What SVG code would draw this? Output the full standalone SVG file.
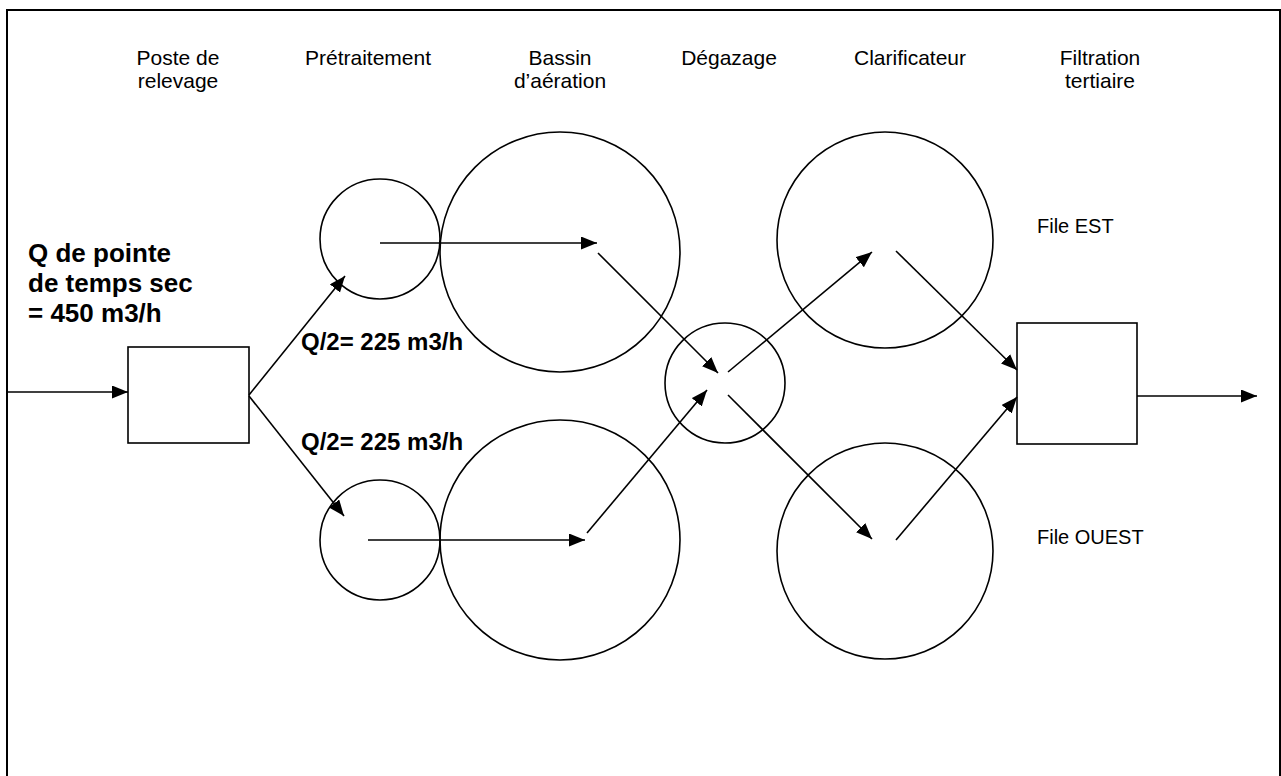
<svg xmlns="http://www.w3.org/2000/svg" width="1281" height="776" viewBox="0 0 1281 776">
<defs>
<style>
.shape{fill:none;stroke:#000;stroke-width:1.6}
.frame{fill:none;stroke:#000;stroke-width:2}
.conn line{stroke:#000;stroke-width:1.6;marker-end:url(#ah)}
.lbl{font-family:"Liberation Sans",Arial,sans-serif;font-size:21px;fill:#000;text-anchor:middle}
.side{font-family:"Liberation Sans",Arial,sans-serif;font-size:20px;fill:#000}
.bold{font-family:"Liberation Sans",Arial,sans-serif;font-weight:bold;fill:#000}
</style>
<marker id="ah" markerUnits="userSpaceOnUse" markerWidth="17" markerHeight="14" refX="16" refY="6.5" orient="auto">
<path d="M0,0 L16,6.5 L0,13 z" fill="#000"/>
</marker>
</defs>
<rect width="1281" height="776" fill="#fff"/>
<rect class="frame" x="7" y="10" width="1273" height="780"/>

<g id="labels">
<text class="lbl" x="178" y="65">Poste de</text>
<text class="lbl" x="178" y="88">relevage</text>
<text class="lbl" x="368" y="65">Prétraitement</text>
<text class="lbl" x="560" y="65">Bassin</text>
<text class="lbl" x="560" y="88">d’aération</text>
<text class="lbl" x="729" y="65">Dégazage</text>
<text class="lbl" x="910" y="65">Clarificateur</text>
<text class="lbl" x="1100" y="65">Filtration</text>
<text class="lbl" x="1100" y="88">tertiaire</text>
<text class="bold" font-size="26" x="28" y="262">Q de pointe</text>
<text class="bold" font-size="26" x="28" y="292">de temps sec</text>
<text class="bold" font-size="26" x="28" y="322">= 450 m3/h</text>
<text class="bold" font-size="24" x="301" y="350">Q/2= 225 m3/h</text>
<text class="bold" font-size="24" x="301" y="450">Q/2= 225 m3/h</text>
<text class="side" x="1037" y="233">File EST</text>
<text class="side" x="1037" y="544">File OUEST</text>
</g>

<g id="poste-relevage"><rect class="shape" x="128" y="347" width="121" height="96"/></g>
<g id="pretraitement-est"><circle class="shape" cx="380" cy="239" r="60"/></g>
<g id="pretraitement-ouest"><circle class="shape" cx="380" cy="540" r="60"/></g>
<g id="bassin-est"><circle class="shape" cx="560" cy="252" r="120"/></g>
<g id="bassin-ouest"><circle class="shape" cx="560" cy="540" r="120"/></g>
<g id="degazage"><circle class="shape" cx="725" cy="383" r="60"/></g>
<g id="clarificateur-est"><circle class="shape" cx="885" cy="240" r="108"/></g>
<g id="clarificateur-ouest"><circle class="shape" cx="885" cy="551" r="108"/></g>
<g id="filtration"><rect class="shape" x="1017" y="323" width="120" height="121"/></g>

<g id="connectors" class="conn">
<line x1="7" y1="392" x2="128" y2="392"/>
<line x1="249" y1="395" x2="345" y2="276"/>
<line x1="249" y1="396" x2="344" y2="516"/>
<line x1="380" y1="243" x2="597" y2="243"/>
<line x1="368" y1="540" x2="585" y2="540"/>
<line x1="598" y1="253" x2="718" y2="373"/>
<line x1="587" y1="533" x2="707" y2="390"/>
<line x1="728" y1="372" x2="872" y2="252"/>
<line x1="728" y1="395" x2="872" y2="539"/>
<line x1="896" y1="251" x2="1017" y2="370"/>
<line x1="896" y1="540" x2="1017" y2="397"/>
<line x1="1137" y1="396" x2="1257" y2="396"/>
</g>
</svg>
